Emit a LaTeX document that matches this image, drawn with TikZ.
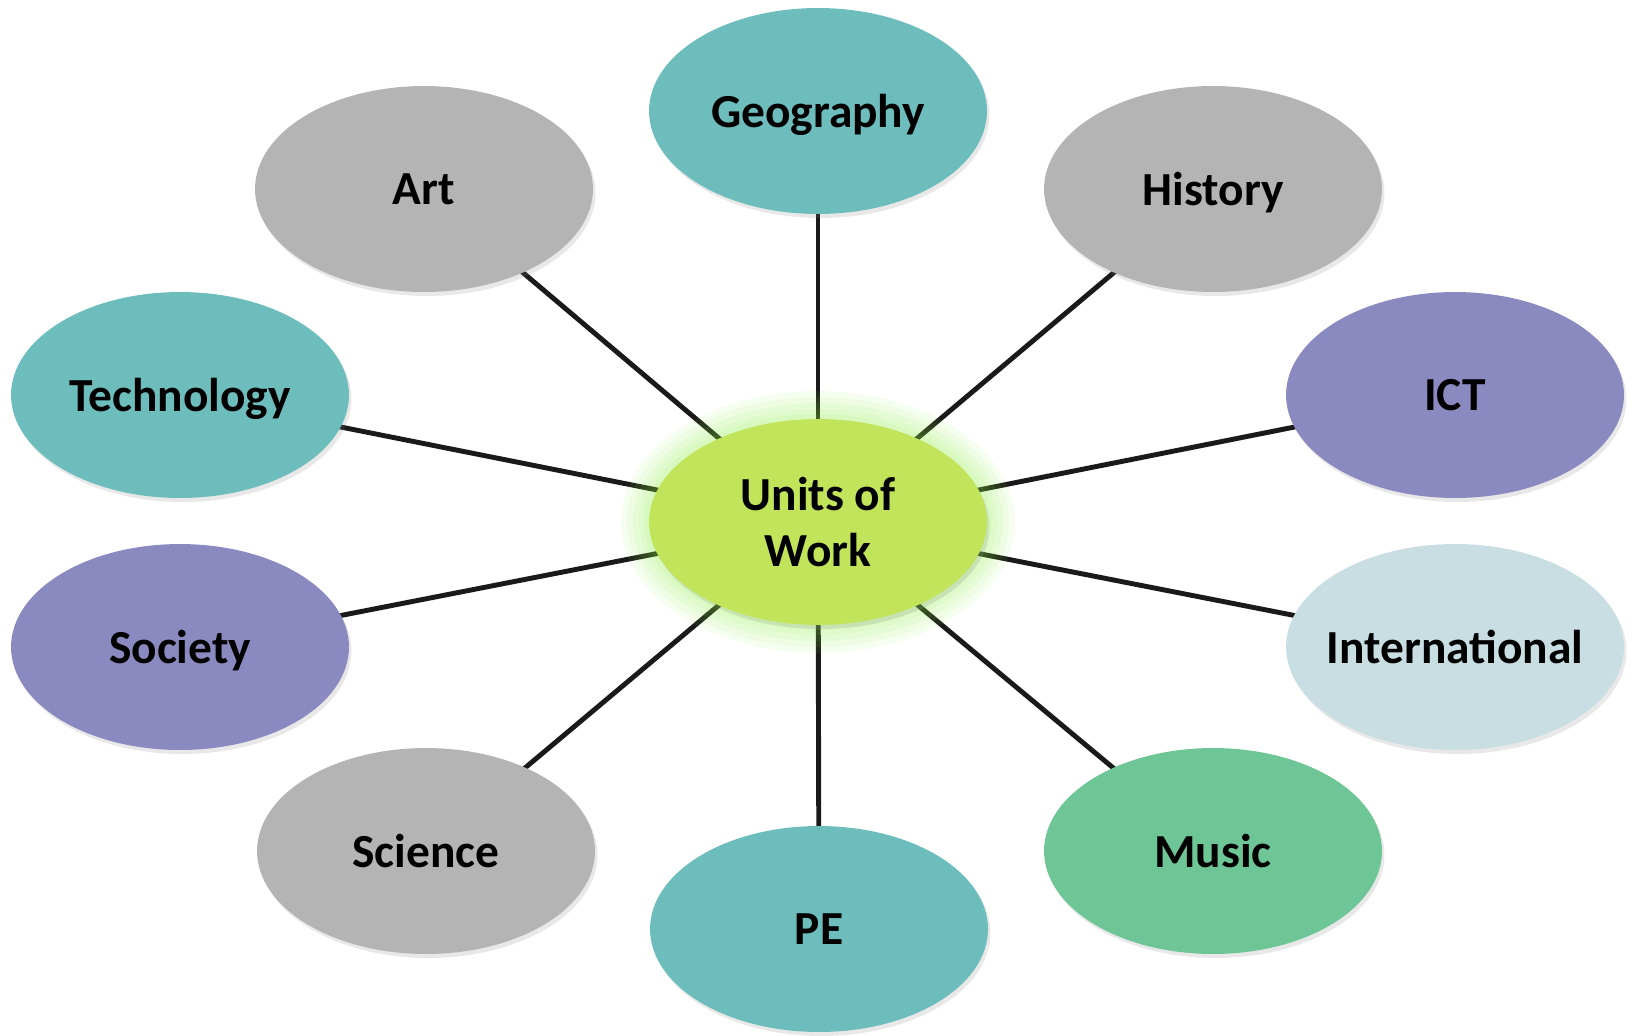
\documentclass[tikz,border=0pt]{standalone}
\usepackage{fontspec}
\setmainfont{Carlito}
\usetikzlibrary{shapes.geometric,shadows,backgrounds}

\definecolor{tealU}{RGB}{108,189,188}
\definecolor{greyU}{RGB}{180,180,180}
\definecolor{violetU}{RGB}{138,138,192}
\definecolor{paleU}{RGB}{200,222,226}
\definecolor{mintU}{RGB}{110,198,150}
\definecolor{limeU}{RGB}{194,228,90}
\definecolor{spokeU}{RGB}{26,26,26}

\tikzset{
  unit/.style={ellipse, minimum width=6.76cm, minimum height=4.12cm,
    inner sep=-1.5cm, text depth=0pt, align=center,
    font=\fontsize{27}{32}\selectfont\bfseries,
    drop shadow={opacity=0.18, shadow xshift=0.5mm, shadow yshift=-0.8mm}},
  hub/.style={unit, fill=limeU},
  spoke/.style={line width=2.8pt, spokeU}
}

\begin{document}
\begin{tikzpicture}[x=0.02cm, y=-0.02cm]
    \useasboundingbox (0,0) rectangle (1632,1035);

    % Glow round the hub
    \foreach \G in {28,22,16,10,5} {
        \fill[limeU!70!green, opacity=0.08] (818,522) ellipse ({169+\G} and {103+\G});
    }

    % Hub
    \node[hub] (work) at (818,522) {Units of\\Work};

    % Subjects round the hub
    \node[unit, fill=tealU]   (geo)  at (818,111)  {Geography};
    \node[unit, fill=greyU]   (art)  at (424,189)  {Art};
    \node[unit, fill=greyU]   (hist) at (1213,189) {History};
    \node[unit, fill=tealU]   (tech) at (180,395)  {Technology};
    \node[unit, fill=violetU] (ict)  at (1455,395) {ICT};
    \node[unit, fill=violetU] (soc)  at (180,647)  {Society};
    \node[unit, fill=paleU]   (intl) at (1455,647) {International};
    \node[unit, fill=greyU]   (sci)  at (426,851)  {Science};
    \node[unit, fill=mintU]   (mus)  at (1213,851) {Music};
    \node[unit, fill=tealU]   (pe)   at (819,929)  {PE};

    % Spokes
    \begin{scope}[on background layer]
        \foreach \S in {geo,art,hist,tech,ict,soc,intl,sci,mus,pe} {
            \draw[spoke] (work.center) -- (\S.center);
        }
    \end{scope}
\end{tikzpicture}
\end{document}
